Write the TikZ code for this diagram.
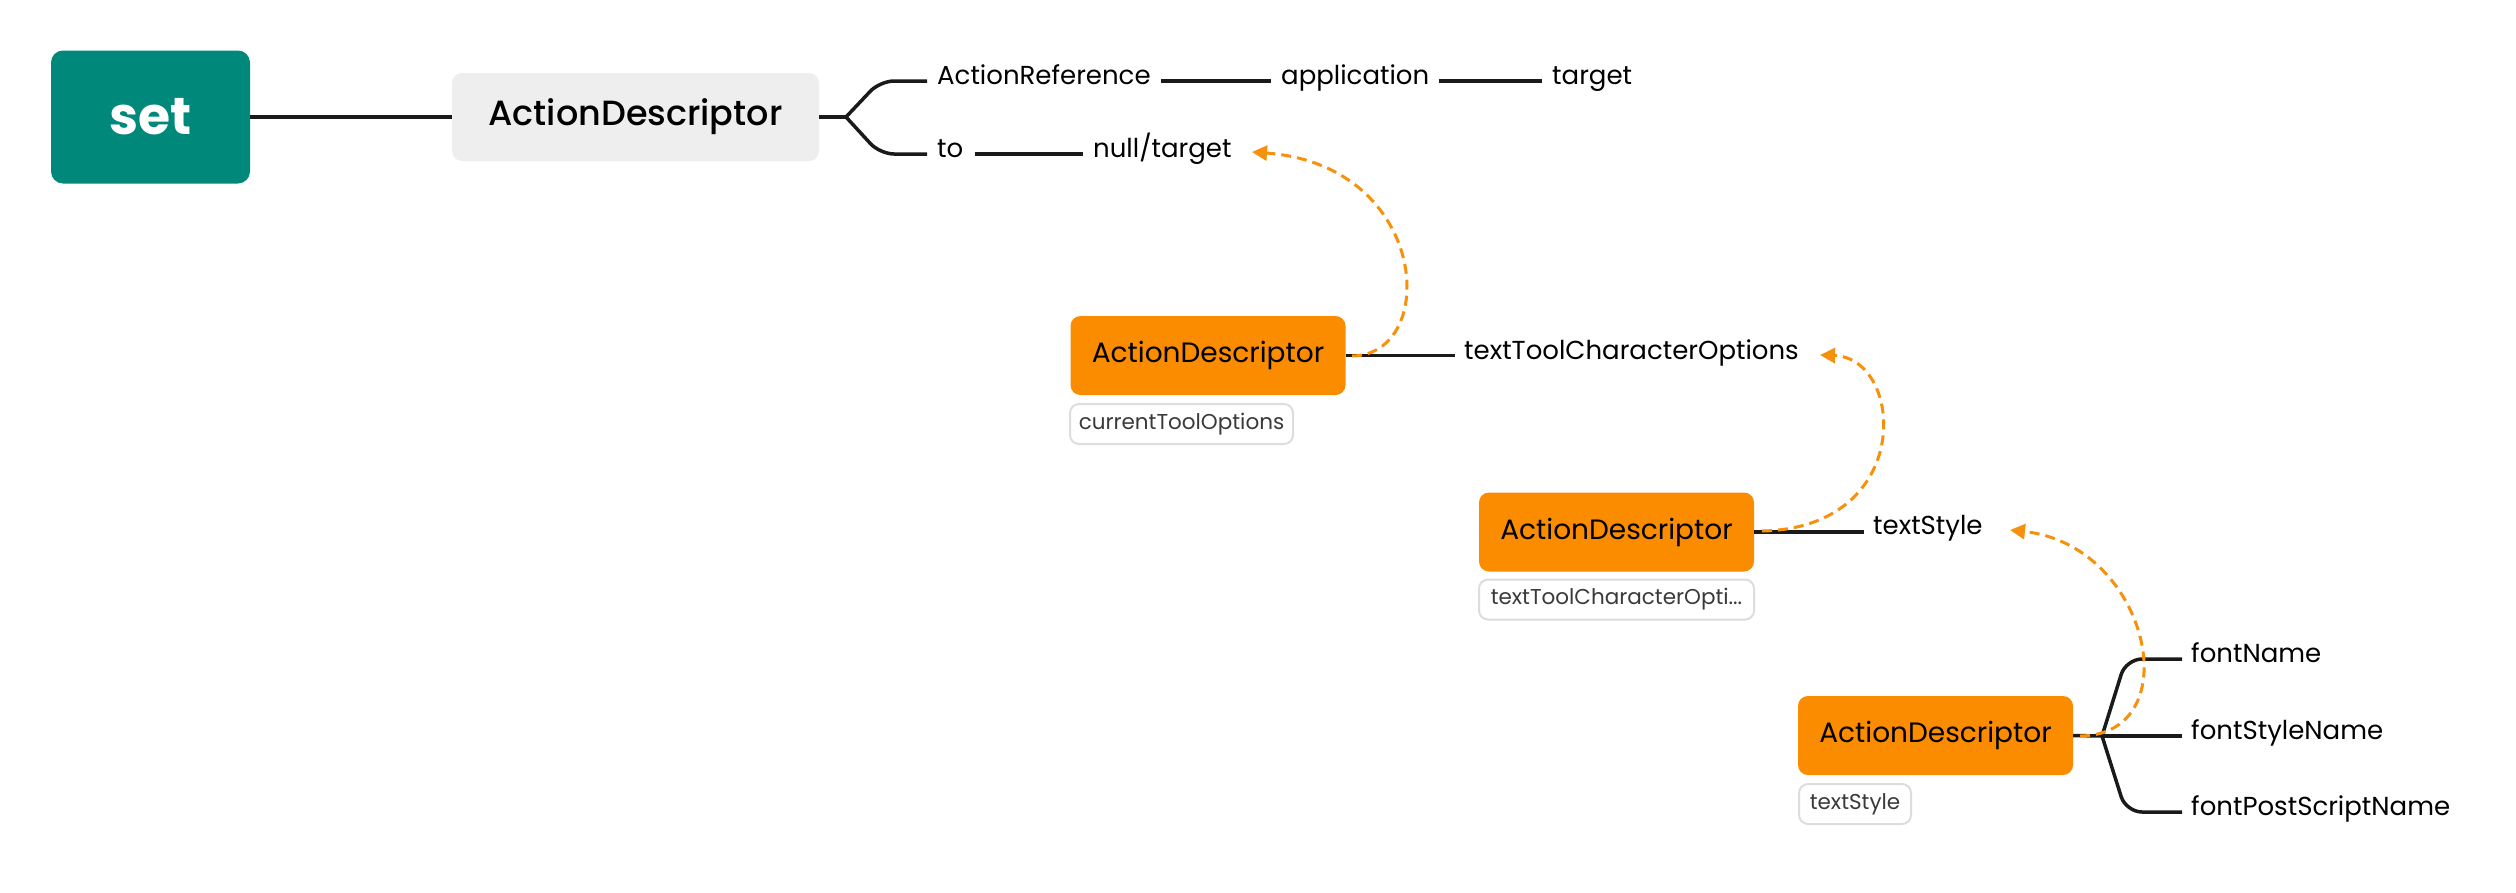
\documentclass[tikz,border=0pt]{standalone}
\usepackage{fontspec}
\setmainfont{Poppins}
\newfontfamily\popmed{Poppins Medium}
\usetikzlibrary{arrows.meta,calc}
\definecolor{xmteal}{HTML}{00897B}
\definecolor{xmorange}{HTML}{FB8C00}
\definecolor{xmgray}{HTML}{EEEEEE}
\definecolor{xmline}{HTML}{1A1A1A}
\definecolor{xmlabel}{HTML}{DDDDDD}
\definecolor{xmlabeltext}{HTML}{3A3A3A}
\definecolor{xmdash}{HTML}{F7900A}
\tikzset{
  rootbox/.style={fill=xmteal, rounded corners=12pt, text=white, font=\fontsize{52}{60}\selectfont\bfseries, minimum width=199pt, minimum height=133pt, inner sep=0pt},
  mainbox/.style={fill=xmgray, rounded corners=10pt, text=black, font=\fontsize{35}{40}\selectfont\popmed, minimum width=367pt, minimum height=88pt, inner sep=0pt},
  orbox/.style={fill=xmorange, rounded corners=10pt, text=black, font=\fontsize{28}{32}\selectfont, minimum width=275pt, minimum height=79pt, inner sep=0pt},
  lblbox/.style={draw=xmlabel, line width=2pt, fill=white, rounded corners=9pt, text=xmlabeltext, font=\fontsize{21.5}{24}\selectfont, minimum height=40pt, inner sep=0pt},
  plain/.style={anchor=west, inner sep=0pt, text height=0.7em, text depth=0pt, font=\fontsize{26}{30}\selectfont, text=black},
  conn/.style={draw=xmline, line width=3.5pt},
  rel/.style={draw=xmdash, line width=3pt, dash pattern=on 10pt off 6pt, -{Triangle[length=15pt,width=15pt]}, line cap=butt},
}
\begin{document}
\begin{tikzpicture}[x=1pt,y=-1pt]
\useasboundingbox (0,0) rectangle (2516,892);
\fill[white] (0,0) rectangle (2516,892);

% nodes
\node[rootbox] (set) at (150.5,117) {set};
\node[mainbox] (gad) at (635.5,117) {ActionDescriptor};
\node[plain] (aref) at (937,81) {ActionReference};
\node[plain] (app) at (1281,81) {application};
\node[plain] (tgt) at (1552,81) {target};
\node[plain] (to) at (937,154) {to};
\node[plain] (nt) at (1093,154) {null/target};

\node[orbox] (o1) at (1208,355.5) {ActionDescriptor};
\node[lblbox, minimum width=223pt] (l1) at (1181.5,424) {currentToolOptions};
\node[plain] (ttco) at (1464,356) {textToolCharacterOptions};

\node[orbox] (o2) at (1616.5,532) {ActionDescriptor};
\node[lblbox, minimum width=275pt] (l2) at (1616.5,599.5) {textToolCharacterOpti...};
\node[plain] (ts) at (1873,531) {textStyle};

\node[orbox] (o3) at (1935.5,735.5) {ActionDescriptor};
\node[lblbox, minimum width=112pt] (l3) at (1855,804) {textStyle};
\node[plain] (fn) at (2191,659) {fontName};
\node[plain] (fsn) at (2191,736) {fontStyleName};
\node[plain] (fpn) at (2191,812) {fontPostScriptName};

% connectors
\draw[conn] (set.east) -- (gad.west);
\coordinate (b1) at (846,117);
\draw[conn] (gad.east) -- (b1);
\draw[conn, rounded corners=14pt, shorten >=10pt] (b1) -- (880,81) -- (aref.west);
\draw[conn, rounded corners=14pt, shorten >=10pt] (b1) -- (880,154) -- (to.west);
\draw[conn, shorten <=10pt, shorten >=10pt] (aref.east) -- (app.west);
\draw[conn, shorten <=10pt, shorten >=10pt] (app.east) -- (tgt.west);
\draw[conn, shorten <=11pt, shorten >=10pt] (to.east) -- (nt.west);

\draw[conn, shorten >=9pt] (o1.east) -- (o1.east -| ttco.west);
\draw[conn, shorten >=9pt] (o2.east) -- (o2.east -| ts.west);

\coordinate (b3) at (2102,736);
\draw[conn] (o3.east) -- (b3);
\draw[conn, rounded corners=16pt, shorten >=9pt] (b3) -- (2126,659) -- (fn.west);
\draw[conn, shorten >=9pt] (b3) -- (fsn.west);
\draw[conn, rounded corners=16pt, shorten >=9pt] (b3) -- (2126,812) -- (fpn.west);

% relationships (dashed)
\coordinate (r1s) at (1352,356);
\coordinate (r1e) at (1252,152);
\draw[rel] (r1s) .. controls (1440,355) and (1430,165) .. (r1e);
\coordinate (r2s) at (1762,531);
\coordinate (r2e) at (1820,355);
\draw[rel] (r2s) .. controls (1915,528) and (1905,358) .. (r2e);
\coordinate (r3s) at (2080,736);
\coordinate (r3e) at (2010,530);
\draw[rel] (r3s) .. controls (2190,735) and (2150,545) .. (r3e);
\end{tikzpicture}
\end{document}
